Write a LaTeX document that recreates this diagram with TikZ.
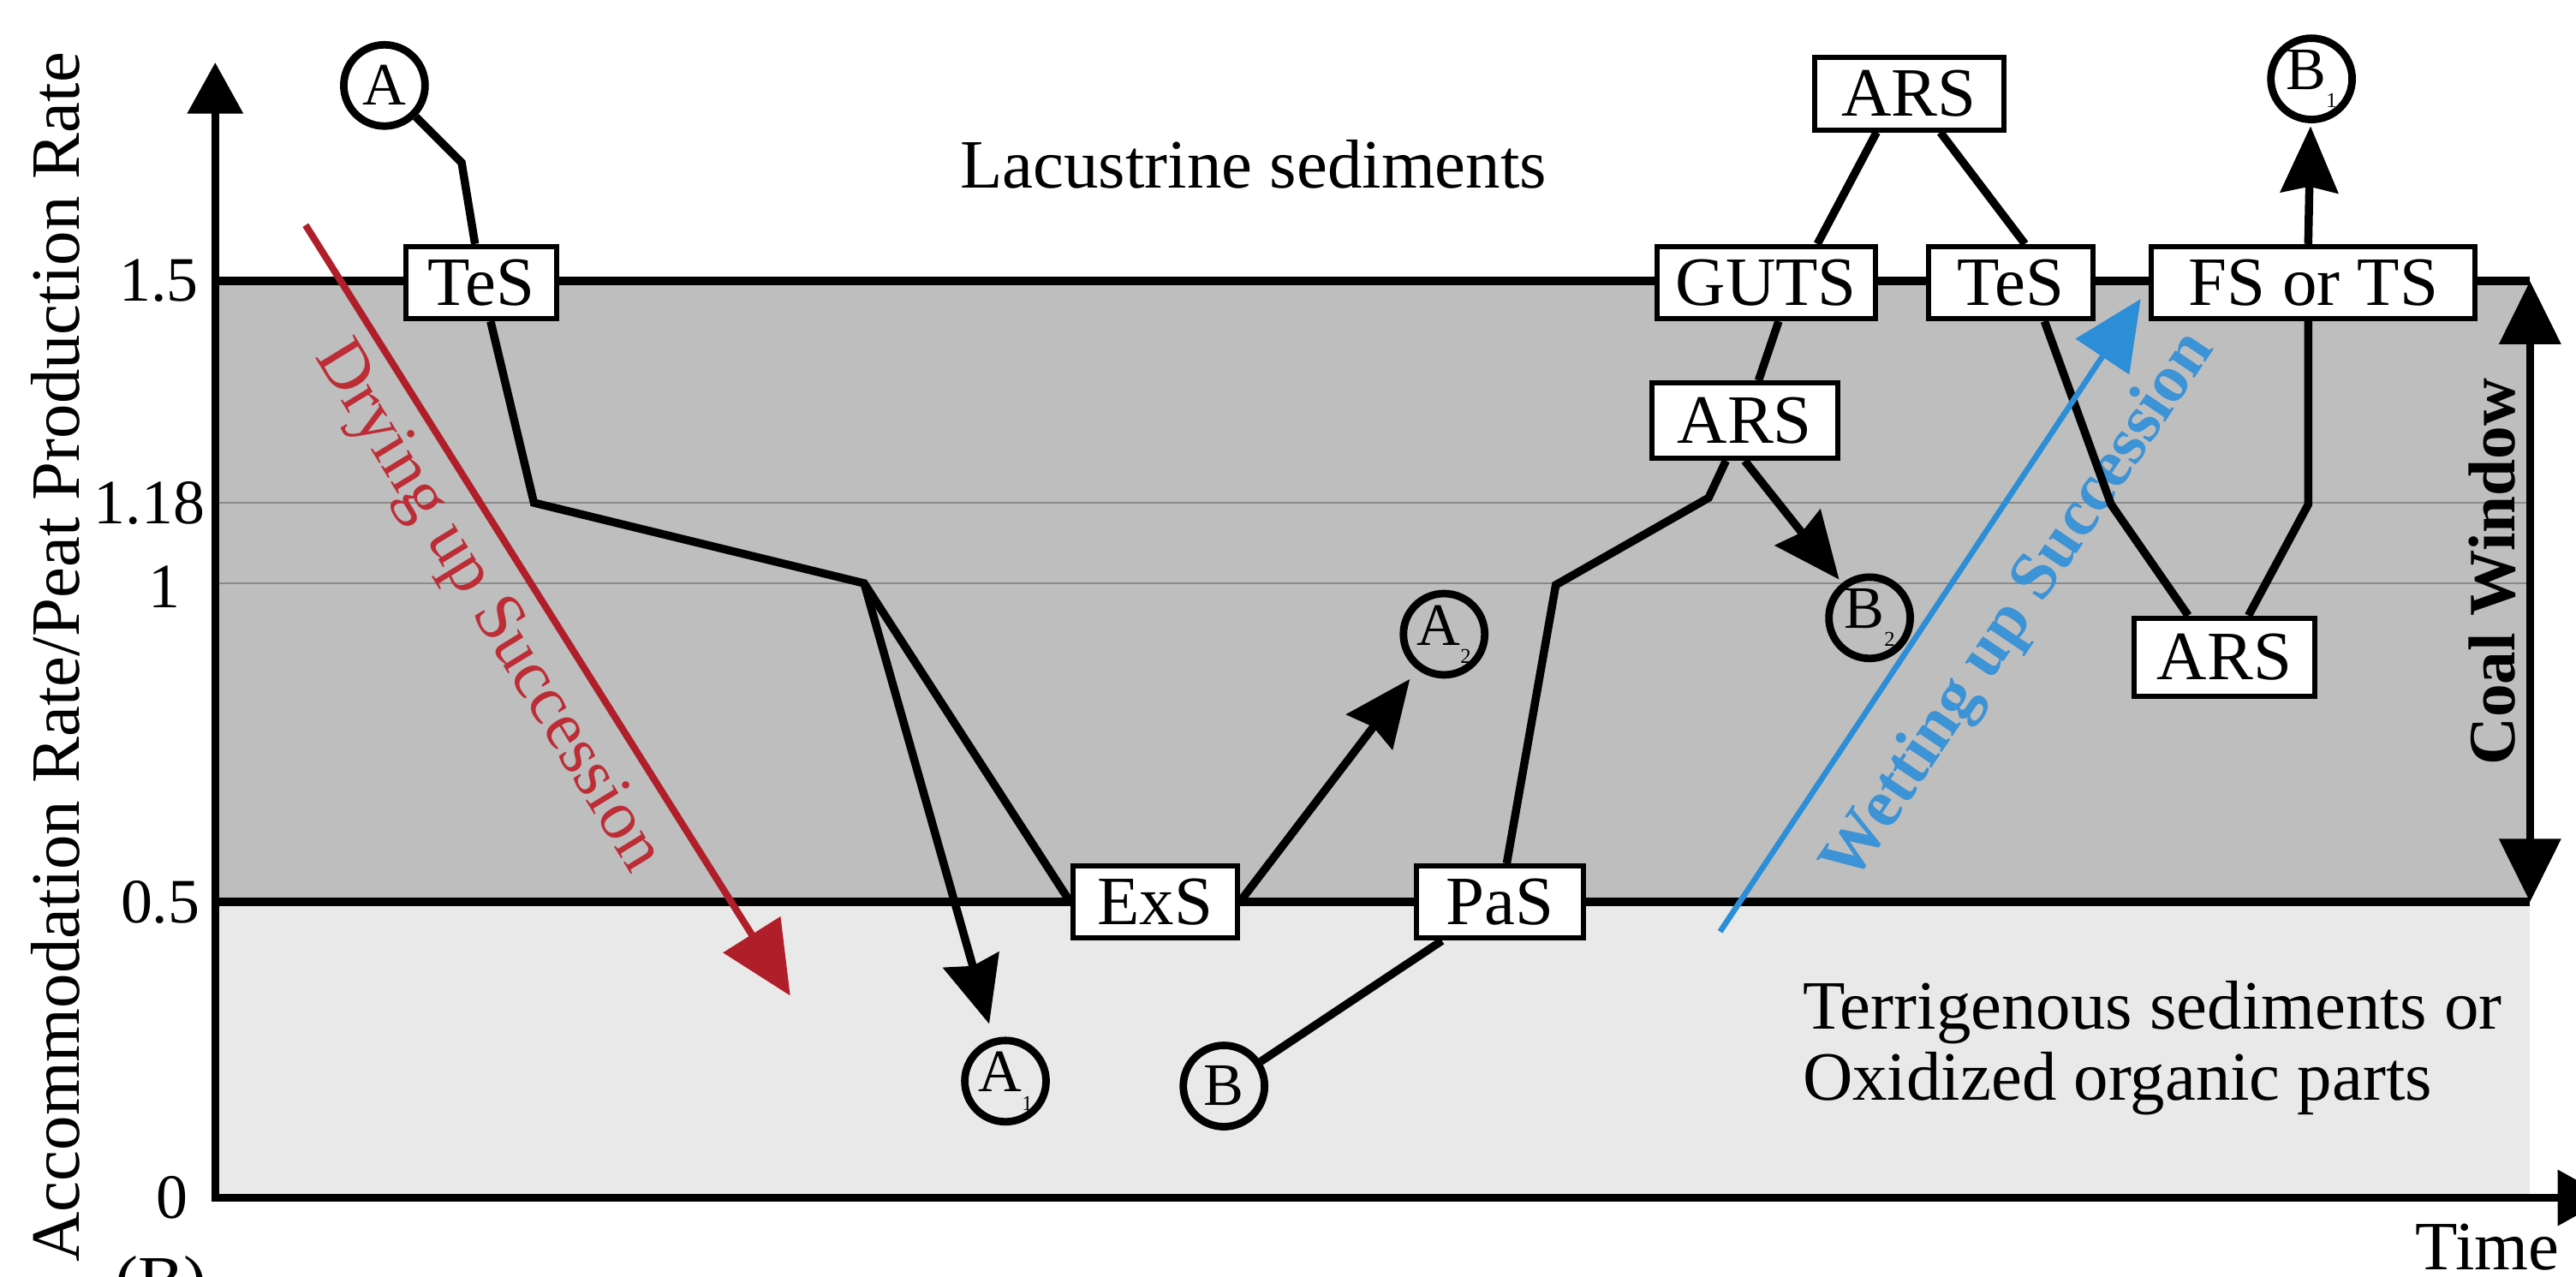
\documentclass[tikz,border=0pt]{standalone}
\usepackage{fontspec}
\setmainfont{Liberation Serif}
\usetikzlibrary{arrows.meta,calc}

\definecolor{coalgrey}{HTML}{BEBEBE}
\definecolor{terrgrey}{HTML}{E9E9E9}
\definecolor{guide}{HTML}{8A8A8A}
\definecolor{dryred}{HTML}{B01E2A}
\definecolor{drytext}{HTML}{BD2D36}
\definecolor{wetblue}{HTML}{2B8ED6}
\definecolor{wettext}{HTML}{3C93D6}

\newcommand{\idx}[1]{\raisebox{-0.3em}{\fontsize{7}{7}\selectfont #1}}

\begin{document}
\begin{tikzpicture}[x=0.01918cm, y=-0.01918cm,
  axisline/.style={line width=2.7pt, black},
  route/.style={line width=2.7pt, black, line join=miter},
  tip/.style={-{Stealth[length=22pt,width=19pt,inset=2pt]}},
  surface/.style={draw, line width=1.7pt, fill=white, inner sep=0pt,
    minimum height=24pt, font=\fontsize{23}{26}\selectfont},
  point/.style={draw, circle, line width=2.5pt, inner sep=0pt,
    minimum size=27pt, font=\fontsize{20}{22}\selectfont},
  lbl/.style={inner sep=0pt, font=\fontsize{23}{23.5}\selectfont},
  tick/.style={inner sep=0pt, font=\fontsize{21}{24}\selectfont},
]
\useasboundingbox (0,0) rectangle (1568,777);

% zones
\fill[terrgrey] (131,549) rectangle (1540,729);
\fill[coalgrey] (131,171) rectangle (1540,549);
\draw[guide, line width=0.8pt] (131,306) -- (1540,306);
\draw[guide, line width=0.8pt] (131,355) -- (1540,355);
\draw[axisline] (131,171) -- (1540,171);
\draw[axisline] (131,549) -- (1540,549);

% axes
\coordinate (origin) at (131,729);
\coordinate (ytop) at (131,38);
\coordinate (xend) at (1588,729);
\draw[axisline, {Triangle[length=17pt,width=18pt]}-{Triangle[length=17pt,width=18pt]}]
  (ytop) -- (origin) -- (xend);

% coal window
\coordinate (cwtop) at (1540,171);
\coordinate (cwbot) at (1540,549);
\draw[axisline, {Triangle[length=21pt,width=20pt]}-{Triangle[length=21pt,width=20pt]}]
  (cwtop) -- (cwbot);
\node[lbl, font=\fontsize{22}{24}\selectfont\bfseries, rotate=90] (cw) at (1517,348) {Coal Window};

% tick labels
\node[tick, anchor=east] (t15) at (121,171) {1.5};
\node[tick, anchor=east] (t118) at (125,306) {1.18};
\node[tick] (t1) at (100,357) {1};
\node[tick, anchor=east] (t05) at (122,549) {0.5};
\node[tick] (t0) at (105,729) {0};

% axis titles
\node[lbl, rotate=90, anchor=base] (ylab) at (48,400) {Accommodation Rate/Peat Production Rate};
\node[lbl, anchor=base] (time) at (1514,773) {Time};
\node[lbl, anchor=north] (tag) at (98,764) {(B)};

% zone labels
\node[lbl] (lac) at (763,100) {Lacustrine sediments};
\node[lbl, align=left, anchor=west] (terr) at (1097,638) {Terrigenous sediments or\\Oxidized organic parts};

% succession arrows
\coordinate (dry0) at (186,137);
\coordinate (dry1) at (481,606);
\draw[dryred, line width=2.3pt, -{Triangle[length=24pt,width=22pt]}] (dry0) -- (dry1);
\node[lbl, text=drytext, rotate=-58.5] (drytxt) at (296,370) {Drying up Succession};

\coordinate (wet0) at (1047,567);
\coordinate (wet1) at (1303,182);
\node[lbl, text=wettext, font=\fontsize{22.5}{24}\selectfont\bfseries, rotate=56] (wettxt) at (1230,370) {Wetting up Succession};

% surfaces
\node[surface, minimum width=50pt] (TeS1) at (293,172) {TeS};
\node[surface, minimum width=54.6pt] (ExS) at (703,549) {ExS};
\node[surface, minimum width=55.7pt] (PaS) at (913,549) {PaS};
\node[surface, minimum width=72.6pt] (GUTS) at (1075,172) {GUTS};
\node[surface, minimum width=61.7pt, minimum height=25pt] (ARSm) at (1062,256) {ARS};
\node[surface, minimum width=62.8pt] (ARSt) at (1162,57) {ARS};
\node[surface, minimum width=54.6pt] (TeS2) at (1224,172) {TeS};
\node[surface, minimum width=107.5pt] (FS) at (1408,172) {FS or TS};
\node[surface, minimum width=60pt, minimum height=26pt] (ARSb) at (1354,400) {ARS};

% start and end points
\node[point] (A) at (234,52) {A};
\node[point] (A1) at (612,658) {A\idx{1}};
\node[point] (A2) at (879,386) {A\idx{2}};
\node[point] (B) at (745,661) {B};
\node[point] (B1) at (1407,48) {B\idx{1}};
\node[point] (B2) at (1138,376) {B\idx{2}};

% path A
\coordinate (a1) at (281,99);
\coordinate (b1) at (325,306);
\coordinate (b2) at (526,355);
\draw[route] (A) -- (a1) -- (TeS1);
\draw[route] (TeS1) -- (b1) -- (b2) -- (ExS.west);
\draw[route, tip, shorten >=5pt] (b2) -- (A1);
\draw[route, tip, shorten >=4pt] (ExS.east) -- (A2);

% path B
\coordinate (c1) at (947,356);
\coordinate (c2) at (1040,303);
\draw[route] (B) -- (PaS);
\draw[route] (PaS) -- (c1) -- (c2) -- (ARSm);
\draw[route, tip, shorten >=1.5pt] (ARSm.south) -- (B2);
\draw[route] (ARSm.71) -- (GUTS.-72);
\draw[route] (GUTS.37) -- (ARSt.-130);
\draw[route] (ARSt.-51) -- (TeS2.70);
\coordinate (d1) at (1285,307);
\coordinate (d2) at (1405,307);
\draw[route] (TeS2.-49) -- (d1) -- (ARSb.131);
\draw[route] (ARSb.60) -- (d2) -- (FS.south -| d2);
\draw[route, tip, shorten >=1pt] (FS.north -| d2) -- (B1);

% wetting arrow drawn over the paths
\draw[wetblue, line width=1.9pt, -{Triangle[length=23pt,width=21pt]}] (wet0) -- (wet1);
\end{tikzpicture}
\end{document}
